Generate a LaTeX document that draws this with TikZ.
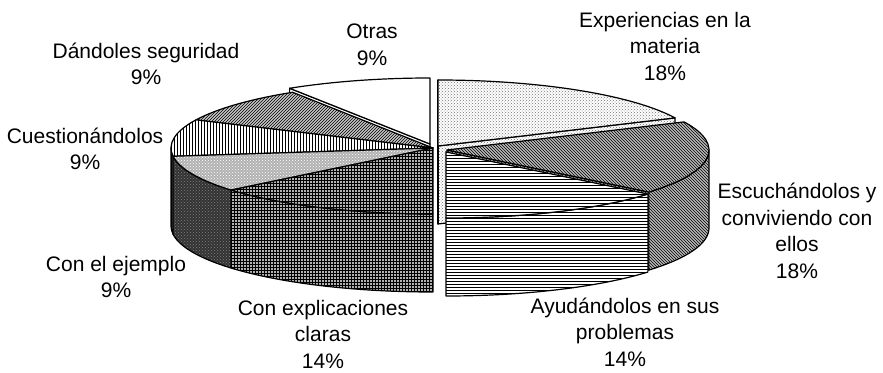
\documentclass[tikz,border=0pt]{standalone}
\usepackage{fontspec}
\setmainfont{Liberation Sans}
\usetikzlibrary{patterns,positioning}

\newcommand{\pierx}{262}
\newcommand{\piery}{66}
\newcommand{\pieh}{78}
% top of a slice, wall of a slice, radial face of a slice
\newcommand{\slicetop}[3]{\path[#3] (0,0) -- ({\pierx*cos(#1)},{\piery*sin(#1)}) arc[start angle=#1, end angle=#2, x radius=\pierx, y radius=\piery] -- cycle;}
\newcommand{\slicewall}[3]{\path[#3] ({\pierx*cos(#1)},{\piery*sin(#1)}) arc[start angle=#1, end angle=#2, x radius=\pierx, y radius=\piery] -- ++(0,-\pieh) arc[start angle=#2, end angle=#1, x radius=\pierx, y radius=\piery] -- cycle;}
\newcommand{\sliceface}[2]{\path[#2] (0,0) -- ({\pierx*cos(#1)},{\piery*sin(#1)}) -- ++(0,-\pieh) -- (0,-\pieh) -- cycle;}

\tikzset{
  lbl/.style={align=center, inner sep=0pt, font=\fontsize{21}{26.5}\selectfont},
  rim/.style={draw=black, line width=1.2pt, line join=round},
  otras/.style={rim, fill=white},
  exper/.style={rim, preaction={fill=white}, pattern=crosshatch dots, pattern color=black!55},
  dando/.style={rim, preaction={fill=gray!45}, pattern=north east lines},
  cuest/.style={rim, preaction={fill=white}, pattern=vertical lines},
  ejemtop/.style={rim, preaction={fill=gray!60}, pattern=crosshatch dots, pattern color=white},
  ejemwall/.style={rim, preaction={fill=black!80}, pattern=crosshatch dots, pattern color=gray},
  expl/.style={rim, preaction={fill=gray!60}, pattern=grid},
  ayud/.style={rim, preaction={fill=white}, pattern=horizontal lines},
  escu/.style={rim, preaction={fill=gray!55}, pattern=north west lines}
}

\begin{document}
\begin{tikzpicture}[x=1pt,y=1pt]
\useasboundingbox (0,0) rectangle (883,372);
% slices, back to front
\begin{scope}[shift={(430,228)}]
 \sliceface{122.4}{otras}
 \slicetop{90}{122.4}{otras}
\end{scope}
\begin{scope}[shift={(438,226)}]
 \sliceface{25.2}{exper}
 \sliceface{90}{exper}
 \slicetop{25.2}{90}{exper}
\end{scope}
\begin{scope}[shift={(433,224)}]
 \slicetop{122.4}{154.8}{dando}
 \slicewall{180}{187.2}{cuest}
 \slicetop{154.8}{187.2}{cuest}
\end{scope}
\begin{scope}[shift={(447,222)}]
 \sliceface{320.4}{escu}
 \slicewall{320.4}{360}{escu}
 \slicetop{320.4}{385.2}{escu}
\end{scope}
\begin{scope}[shift={(433,224)}]
 \slicewall{187.2}{219.6}{ejemwall}
 \slicetop{187.2}{219.6}{ejemtop}
 \slicewall{219.6}{270}{expl}
 \slicetop{219.6}{270}{expl}
\end{scope}
\begin{scope}[shift={(446,220)}]
 \slicewall{270}{320.4}{ayud}
 \slicetop{270}{320.4}{ayud}
\end{scope}
% labels
\node[lbl] (otras) at (372,327) {Otras\\9\%};
\node[lbl] (dandoles) at (146,308) {Dándoles seguridad\\9\%};
\node[lbl] (cuestion) at (85,223) {Cuestionándolos\\9\%};
\node[lbl] (ejemplo) at (116,95) {Con el ejemplo\\9\%};
\node[lbl] (explic) at (323,38) {Con explicaciones\\claras\\14\%};
\node[lbl] (ayudando) at (625,40) {Ayudándolos en sus\\problemas\\14\%};
\node[lbl] (escuchando) at (797,141) {Escuchándolos y\\conviviendo con\\ellos\\18\%};
\node[lbl] (experiencias) at (665,326) {Experiencias en la\\materia\\18\%};
\end{tikzpicture}
\end{document}
